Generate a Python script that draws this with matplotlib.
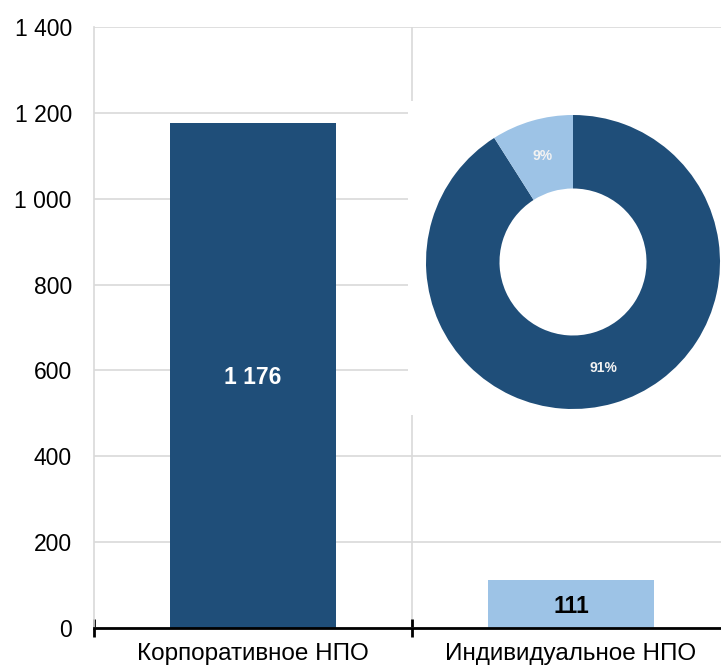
import matplotlib
matplotlib.use("Agg")
import matplotlib.pyplot as plt
from matplotlib.patches import Rectangle

plt.rcParams['font.family'] = ['Liberation Sans', 'DejaVu Sans']

categories = ["Корпоративное НПО", "Индивидуальное НПО"]
values = [1176, 111]
value_labels = ["1 176", "111"]
bar_colors = ["#1F4E79", "#9DC3E6"]
label_colors = ["white", "black"]
yticks = [0, 200, 400, 600, 800, 1000, 1200, 1400]
ytick_labels = ["0", "200", "400", "600", "800", "1 000", "1 200", "1 400"]
donut_values = [91, 9]
donut_colors = ["#1F4E79", "#9DC3E6"]

W, H = 721, 668
fig = plt.figure(figsize=(W / 100, H / 100), dpi=100)

def fx(px):
    return px / W

def fy(py):
    return 1 - py / H

ax_left, ax_right, ax_top, ax_bottom = 94, 730, 27, 628
ax = fig.add_axes([fx(ax_left), fy(ax_bottom), fx(ax_right - ax_left), (ax_bottom - ax_top) / H])

x = list(range(len(categories)))
ax.bar(x, values, width=0.52, color=bar_colors, zorder=3)
for xi, v, lab, c in zip(x, values, value_labels, label_colors):
    ax.text(xi, v / 2 - 5, lab, ha='center', va='center', color=c,
            fontsize=16.5, fontweight='bold', zorder=4)

ax.set_xlim(-0.5, 1.5)
ax.set_ylim(0, 1400)
ax.set_yticks(yticks)
ax.set_yticklabels(ytick_labels, fontsize=16.5)
ax.tick_params(axis='y', length=0, pad=16, colors='black')
ax.yaxis.grid(True, color='#D9D9D9', linewidth=1.2, zorder=0)
ax.set_axisbelow(True)

ax.set_xticks([-0.5, 0.5, 1.5])
ax.set_xticklabels([])
ax.set_xticks(x, minor=True)
ax.set_xticklabels(categories, minor=True, fontsize=17.5)
ax.tick_params(axis='x', which='major', direction='inout', length=13, width=2, color='black')
ax.tick_params(axis='x', which='minor', length=0, pad=11)
ax.axvline(0.5, color='#D9D9D9', linewidth=1.2, zorder=0)

for s in ['top', 'right']:
    ax.spines[s].set_visible(False)
ax.spines['left'].set_color('#D9D9D9')
ax.spines['left'].set_linewidth(1.2)
ax.spines['bottom'].set_color('black')
ax.spines['bottom'].set_linewidth(2)
ax.spines['bottom'].set_zorder(5)

# white backdrop for the donut inset
fig.patches.append(Rectangle((fx(408), fy(415)), fx(730 - 408), (415 - 101) / H,
                             transform=fig.transFigure, facecolor='white',
                             edgecolor='none', zorder=5))

cx, cy, r = 573, 262, 147
dax = fig.add_axes([fx(cx - r), fy(cy + r), fx(2 * r), 2 * r / H], zorder=6)
wedges, texts, autotexts = dax.pie(
    donut_values, colors=donut_colors, startangle=90, counterclock=False,
    radius=1, wedgeprops=dict(width=0.5, edgecolor='none'),
    autopct=lambda p: f"{p:.0f}%", pctdistance=0.75)
for t in autotexts:
    t.set_color('#F2F2F2')
    t.set_fontsize(10)
    t.set_fontweight('bold')
dax.set_xlim(-1, 1)
dax.set_ylim(-1, 1)
dax.set_aspect('equal')
dax.axis('off')

fig.savefig("out.png", dpi=100)
